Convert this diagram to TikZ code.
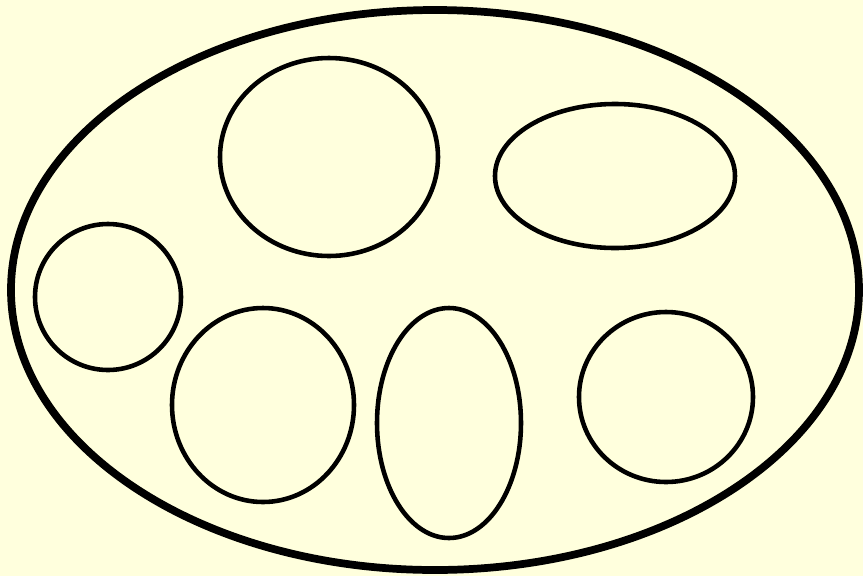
\documentclass[tikz,border=0pt]{standalone}
\usepackage{xcolor}
\definecolor{bgcream}{RGB}{255,255,221}
\usetikzlibrary{positioning}
\tikzset{
  outerset/.style={draw=black, line width=4.4pt},
  innerset/.style={draw=black, line width=2.6pt},
}

\begin{document}
\begin{tikzpicture}[x=0.02cm, y=-0.02cm]
% Background and page size
\fill[bgcream] (0,0) rectangle (863,576);
\useasboundingbox (0,0) rectangle (863,576);

% The enclosing set
\draw[outerset] (435,290) ellipse [x radius=424, y radius=280];

% Top row
\draw[innerset] (329,157) ellipse [x radius=109, y radius=99];
\draw[innerset] (615,176) ellipse [x radius=120, y radius=72];

% Left
\draw[innerset] (108,297) ellipse [x radius=73, y radius=73];

% Bottom row
\draw[innerset] (263,405) ellipse [x radius=91, y radius=97];
\draw[innerset] (449,423) ellipse [x radius=72, y radius=115];
\draw[innerset] (666,397) ellipse [x radius=87, y radius=85];
\end{tikzpicture}
\end{document}
